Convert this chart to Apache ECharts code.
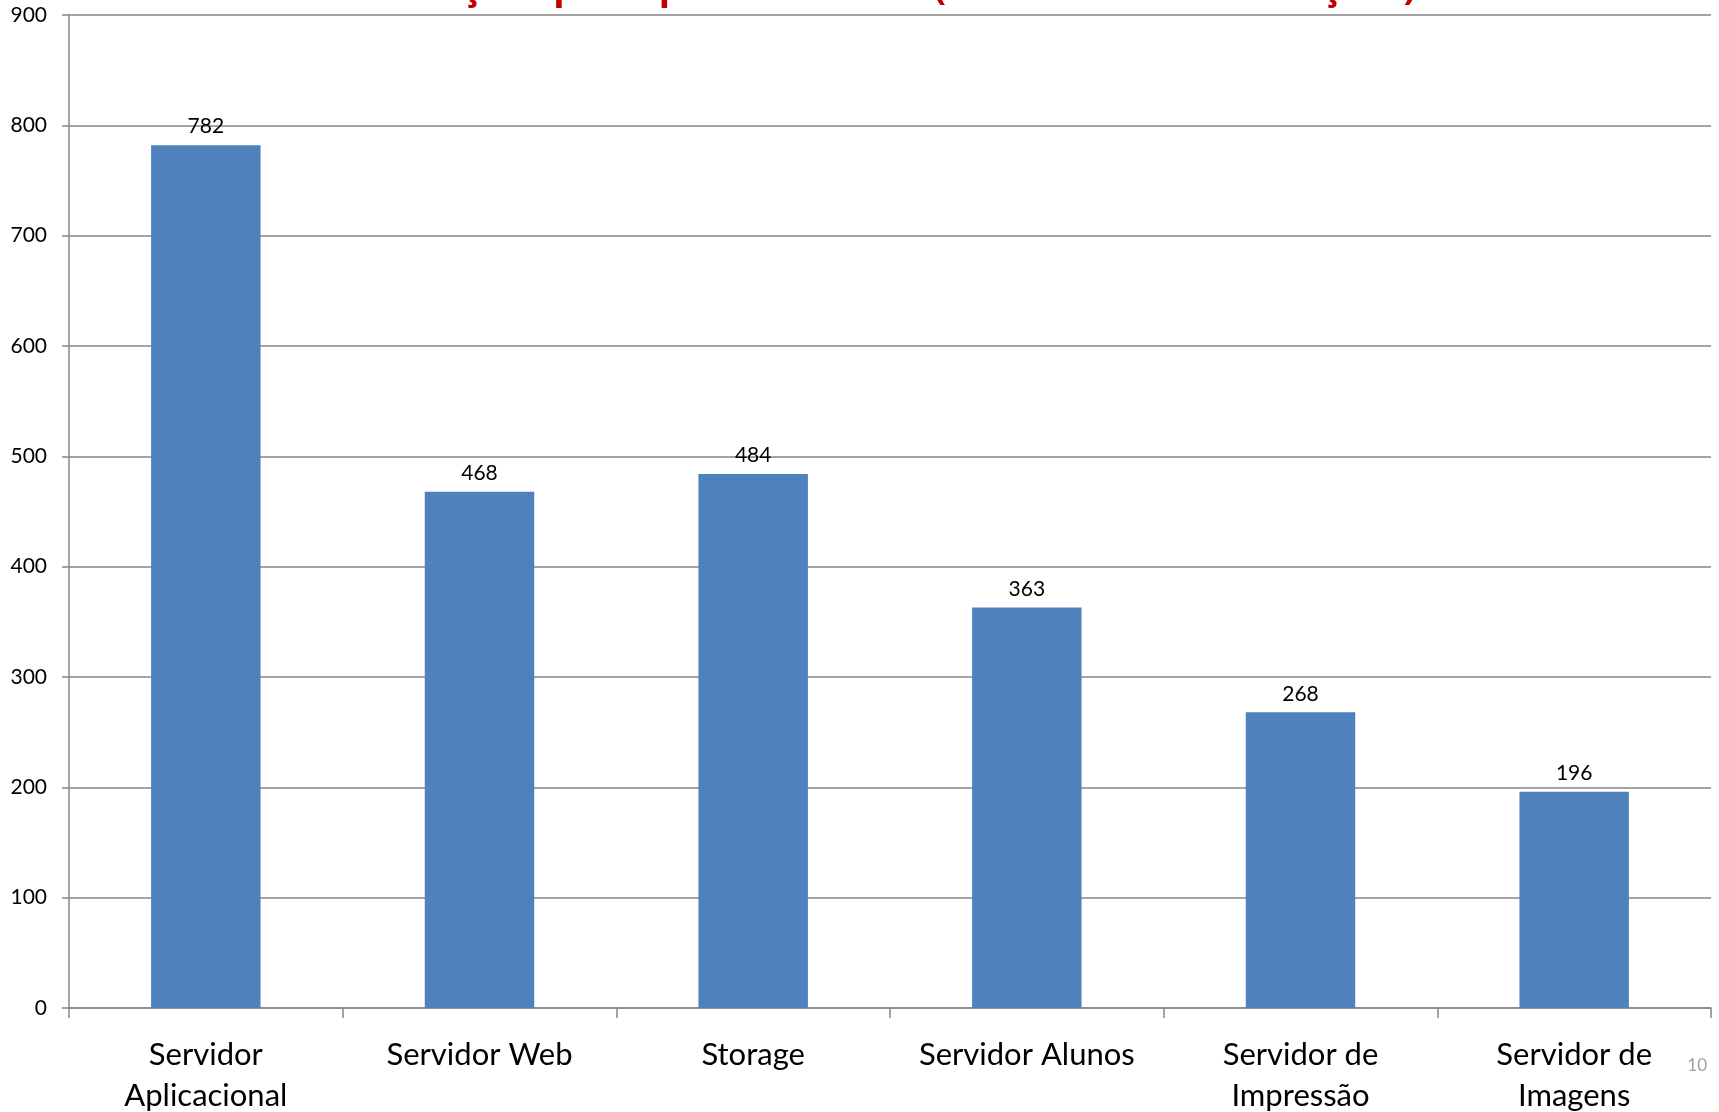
<!DOCTYPE html>
<html>
<head>
<meta charset="utf-8">
<script src="https://cdn.jsdelivr.net/npm/echarts@6/dist/echarts.min.js"></script>
<style>html,body{margin:0;padding:0;background:#fff}#c{width:1719px;height:1112px}</style>
</head>
<body>
<div id="c"></div>
<script>
const categories = ['Servidor\nAplicacional', 'Servidor Web', 'Storage', 'Servidor Alunos', 'Servidor de\nImpressão', 'Servidor de\nImagens'];
const values = [782, 468, 484, 363, 268, 196];
const yTicks = { min: 0, max: 900, interval: 100 };
const titleText = 'Intervenções por Tipo de Servidor (Número de Intervenções)';
const pageNumber = '10';

const chart = echarts.init(document.getElementById('c'), null, { renderer: 'canvas' });
chart.setOption({
  animation: false,
  backgroundColor: '#ffffff',
  grid: { left: 69, right: 8, top: 15, bottom: 104, containLabel: false, outerBoundsMode: 'none' },
  xAxis: {
    type: 'category',
    data: categories,
    axisLine: { lineStyle: { color: '#868686', width: 1.5 } },
    axisTick: { show: true, length: 10, lineStyle: { color: '#868686', width: 1.5 } },
    axisLabel: { color: '#000', fontFamily: 'Lato', fontSize: 31, lineHeight: 41, margin: 26, interval: 0 }
  },
  yAxis: {
    type: 'value',
    min: yTicks.min, max: yTicks.max, interval: yTicks.interval,
    axisLine: { show: true, lineStyle: { color: '#868686', width: 1.5 } },
    axisTick: { show: true, length: 7, lineStyle: { color: '#868686', width: 1.5 } },
    axisLabel: { color: '#000', fontFamily: 'Lato', fontSize: 21, margin: 22 },
    splitLine: { show: true, lineStyle: { color: '#868686', width: 1.5 } }
  },
  series: [{
    type: 'bar',
    data: values,
    barWidth: '40%',
    itemStyle: { color: '#4F81BD' },
    label: { show: true, position: 'top', distance: 8, color: '#000', fontFamily: 'Lato', fontSize: 21 }
  }],
  graphic: [
    { type: 'text', left: 'center', top: -30, style: { text: titleText, fill: '#C00000', font: 'bold 37px "Open Sans"' } },
    { type: 'text', right: 12, top: 1057, style: { text: pageNumber, fill: '#a0a0a0', font: '17px Lato' } }
  ]
});
</script>
</body>
</html>
